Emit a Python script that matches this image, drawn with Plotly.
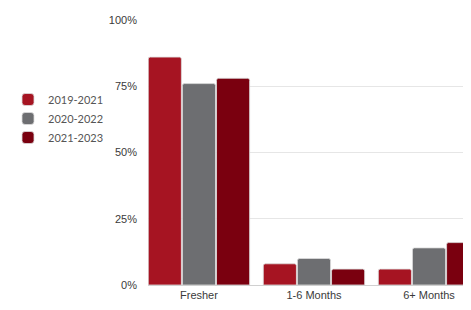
import plotly.graph_objects as go

categories = ["Fresher", "1-6 Months", "6+ Months"]
series_names = ["2019-2021", "2020-2022", "2021-2023"]
values_2019_2021 = [86, 8, 6]
values_2020_2022 = [76, 10, 14]
values_2021_2023 = [78, 6, 16]
colors = ["#A61422", "#6D6E71", "#7A000F"]
y_ticks = [0, 25, 50, 75, 100]
y_tick_labels = ["0%", "25%", "50%", "75%", "100%"]

fig = go.Figure()
for name, vals, col in zip(series_names, [values_2019_2021, values_2020_2022, values_2021_2023], colors):
    fig.add_trace(go.Bar(
        name=name, x=categories, y=vals,
        marker=dict(color=col, line=dict(color="rgba(220,220,220,0.8)", width=1), cornerradius=2),
    ))

fig.update_layout(
    width=463, height=302,
    margin=dict(l=140, r=0, t=12, b=25, autoexpand=False),
    paper_bgcolor="white", plot_bgcolor="white",
    barmode="group", bargap=0.11, bargroupgap=0.03,
    font=dict(family="Liberation Sans, Arial, sans-serif", size=11, color="#3a3a3a"),
    legend=dict(
        xref="container", yref="container", x=0, y=0.745,
        xanchor="left", yanchor="top",
        font=dict(family="Lato, sans-serif", size=11, color="#555555"),
        itemwidth=30, tracegroupgap=0,
    ),
    showlegend=True,
)
fig.update_xaxes(
    range=[-0.443, 2.365], showgrid=False, showline=True, linecolor="#d0d0d0", linewidth=1,
    ticks="", tickfont=dict(size=11, color="#3a3a3a"),
)
fig.update_yaxes(
    range=[0, 100], tickvals=y_ticks, ticktext=y_tick_labels,
    showgrid=True, gridcolor="#e6e6e6", gridwidth=1, zeroline=False,
    ticklabelstandoff=10, tickfont=dict(size=11, color="#3a3a3a"),
)
fig.write_html("out.html")
